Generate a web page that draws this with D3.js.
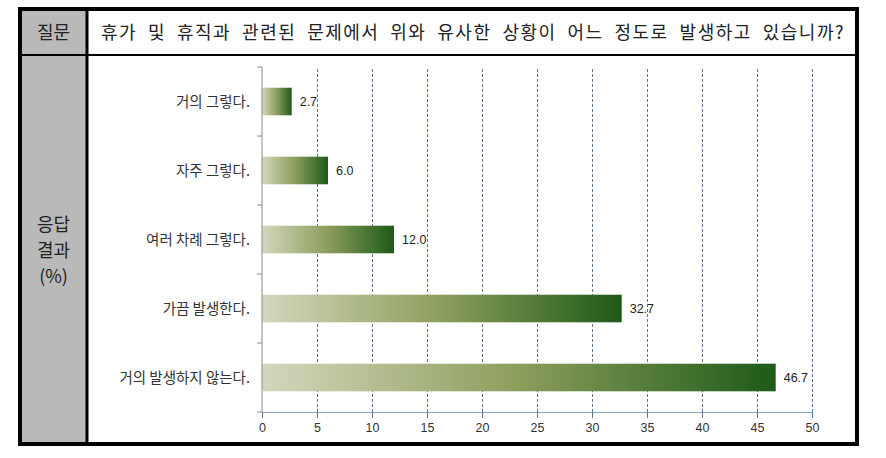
<!DOCTYPE html>
<html>
<head>
<meta charset="utf-8">
<script src="https://cdn.jsdelivr.net/npm/d3@7"></script>
<style>
  body { margin: 0; background: #fff; }
  svg { display: block; }
</style>
</head>
<body>
<div id="chart"></div>
<script>
// chart data
const categories = ['거의 그렇다.', '자주 그렇다.', '여러 차례 그렇다.', '가끔 발생한다.', '거의 발생하지 않는다.'];
const values = [2.7, 6.0, 12.0, 32.7, 46.7];
const xTicks = [0, 5, 10, 15, 20, 25, 30, 35, 40, 45, 50];
const questionLabel = '질문';
const questionText = '휴가 및 휴직과 관련된 문제에서 위와 유사한 상황이 어느 정도로 발생하고 있습니까?';
const answerLabel = ['응답', '결과', '(%)'];

const W = 886, H = 458;
const kr = "'Noto Sans CJK KR', sans-serif";

const svg = d3.select('#chart').append('svg')
    .attr('width', W)
    .attr('height', H);

// table frame
const box = {left: 20, right: 857, top: 9, bottom: 444, split: 87, header: 55};

svg.append('rect')
    .attr('x', box.left).attr('y', box.top)
    .attr('width', box.split - box.left).attr('height', box.bottom - box.top)
    .attr('fill', '#b9b9b9');

svg.append('line')
    .attr('x1', box.left).attr('x2', box.right)
    .attr('y1', box.header).attr('y2', box.header)
    .attr('stroke', '#000').attr('stroke-width', 2);

svg.append('line')
    .attr('x1', box.split).attr('x2', box.split)
    .attr('y1', box.top).attr('y2', box.bottom)
    .attr('stroke', '#000').attr('stroke-width', 3);

svg.append('rect')
    .attr('x', box.left).attr('y', box.top)
    .attr('width', box.right - box.left).attr('height', box.bottom - box.top)
    .attr('fill', 'none')
    .attr('stroke', '#000').attr('stroke-width', 4);

// header texts
svg.append('text')
    .attr('x', (box.left + box.split) / 2).attr('y', 39)
    .attr('text-anchor', 'middle')
    .style('font-family', kr).style('font-size', '18px').attr('fill', '#222')
    .text(questionLabel);

const q = svg.append('text')
    .attr('x', 101).attr('y', 39)
    .style('font-family', kr).style('font-size', '18px')
    .style('letter-spacing', '1.5px')
    .attr('fill', '#222')
    .text(questionText);
// spread the words over the header cell, like the justified original
const qLen = q.node().getComputedTextLength();
const gaps = questionText.split(' ').length - 1;
q.style('word-spacing', ((744 - qLen) / gaps) + 'px');

svg.append('g').selectAll('text')
    .data(answerLabel)
    .enter().append('text')
    .attr('x', (box.left + box.split) / 2)
    .attr('y', (d, i) => 231 + i * 26)
    .attr('text-anchor', 'middle')
    .style('font-family', kr).style('font-size', '18px').attr('fill', '#222')
    .text(d => d);

// bar chart
const plot = {left: 262, right: 812, top: 67, bottom: 412};

const x = d3.scaleLinear()
    .domain([0, 50])
    .range([plot.left, plot.right]);

const y = d3.scaleBand()
    .domain(categories)
    .range([plot.top, plot.bottom])
    .paddingInner(0.6)
    .paddingOuter(0.3);

const defs = svg.append('defs');
const grad = defs.append('linearGradient')
    .attr('id', 'barGrad')
    .attr('x1', '0%').attr('x2', '100%')
    .attr('y1', '0%').attr('y2', '0%');
grad.append('stop').attr('offset', '0%').attr('stop-color', '#d4d7bd');
grad.append('stop').attr('offset', '50%').attr('stop-color', '#8c9e5c');
grad.append('stop').attr('offset', '100%').attr('stop-color', '#1d5a18');

// dashed gridlines
svg.append('g')
    .attr('transform', 'translate(0,' + plot.bottom + ')')
    .call(d3.axisBottom(x).tickValues(xTicks.slice(1)).tickSize(-(plot.bottom - plot.top)).tickFormat(''))
    .call(g => g.select('.domain').remove())
    .call(g => g.selectAll('line')
        .attr('stroke', '#5d7796')
        .attr('stroke-dasharray', '3,2'));

// bars
svg.append('g').selectAll('rect')
    .data(values)
    .enter().append('rect')
    .attr('x', x(0))
    .attr('y', (d, i) => y(categories[i]))
    .attr('width', d => x(d) - x(0))
    .attr('height', y.bandwidth())
    .attr('fill', 'url(#barGrad)');

// value labels
svg.append('g').selectAll('text')
    .data(values)
    .enter().append('text')
    .attr('x', d => x(d) + 8)
    .attr('y', (d, i) => y(categories[i]) + y.bandwidth() / 2)
    .attr('dy', '0.35em')
    .style('font-family', "'Liberation Sans', sans-serif").style('font-size', '12.5px')
    .attr('fill', '#222')
    .text(d => d.toFixed(1));

// x axis
svg.append('g')
    .attr('transform', 'translate(0,' + plot.bottom + ')')
    .call(d3.axisBottom(x).tickValues(xTicks).tickSize(6).tickPadding(5))
    .call(g => g.select('.domain').attr('stroke', '#8ea6c6'))
    .call(g => g.selectAll('.tick line').attr('stroke', '#5d7796'))
    .call(g => g.selectAll('.tick text')
        .style('font-family', "'Liberation Sans', sans-serif")
        .style('font-size', '12.5px')
        .attr('fill', '#333'));

// y axis
const yTickPos = d3.range(categories.length + 1).map(i => plot.top + i * y.step());
svg.append('line')
    .attr('x1', plot.left).attr('x2', plot.left)
    .attr('y1', plot.top).attr('y2', plot.bottom)
    .attr('stroke', '#8a8a8a');
svg.append('g').selectAll('line')
    .data(yTickPos)
    .enter().append('line')
    .attr('x1', plot.left - 5).attr('x2', plot.left)
    .attr('y1', d => d).attr('y2', d => d)
    .attr('stroke', '#8a8a8a');

svg.append('g').selectAll('text')
    .data(categories)
    .enter().append('text')
    .attr('x', 250)
    .attr('y', d => y(d) + y.bandwidth() / 2)
    .attr('dy', '0.35em')
    .attr('text-anchor', 'end')
    .style('font-family', kr).style('font-size', '14.5px')
    .attr('fill', '#333')
    .text(d => d);
</script>
</body>
</html>
